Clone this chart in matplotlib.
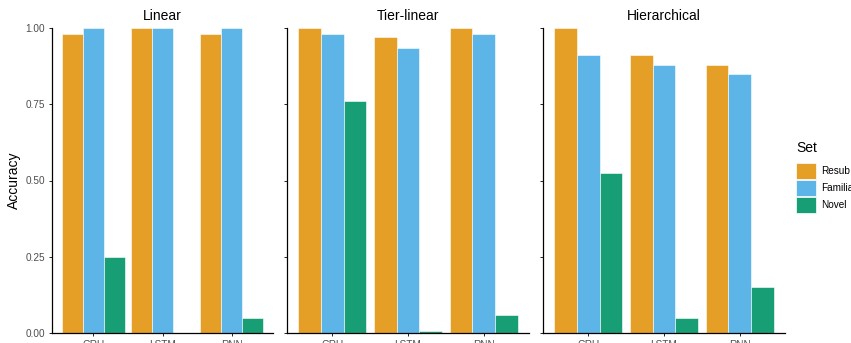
import numpy as np
import matplotlib
matplotlib.use("Agg")
import matplotlib.pyplot as plt
from matplotlib.patches import Patch

plt.rcParams['font.family'] = ['Liberation Sans', 'DejaVu Sans']

#----- data -----
panels = ["Linear", "Tier-linear", "Hierarchical"]
models = ["GRU", "LSTM", "RNN"]
sets = ["Resub", "Familiar", "Novel"]
colors = ["#E59F27", "#5DB5E7", "#189E75"]

linear = [[0.98, 1.00, 0.98],   # Resub
          [1.00, 1.00, 1.00],   # Familiar
          [0.25, 0.00, 0.05]]   # Novel
tier_linear = [[1.00, 0.97, 1.00],
               [0.98, 0.935, 0.98],
               [0.76, 0.005, 0.06]]
hierarchical = [[1.00, 0.91, 0.88],
                [0.91, 0.88, 0.85],
                [0.525, 0.05, 0.15]]
all_data = [linear, tier_linear, hierarchical]

W, H = 851, 343
fig = plt.figure(figsize=(W/100, H/100), dpi=100)

# pixel boxes of each panel (left, right), shared top/bottom
boxes = [(52, 273), (287, 529), (543, 785)]
top_px, bot_px = 28, 333

x = np.arange(len(models))
bw = 0.3
for p, (name, data, (l, r)) in enumerate(zip(panels, all_data, boxes)):
    ax = fig.add_axes([l/W, 1 - bot_px/H, (r - l)/W, (bot_px - top_px)/H])
    for k in range(len(sets)):
        ax.bar(x + (k - 1)*bw, data[k], width=bw, color=colors[k],
               edgecolor='white', linewidth=0.4)
    ax.set_xlim(-0.6, 2.6)
    ax.set_ylim(0, 1)
    ax.set_xticks(x)
    ax.set_xticklabels(models)
    ax.set_yticks([0, 0.25, 0.5, 0.75, 1.0])
    if p == 0:
        ax.set_yticklabels(["0.00", "0.25", "0.50", "0.75", "1.00"])
        ax.set_ylabel("Accuracy", fontsize=10, labelpad=3)
    else:
        ax.set_yticklabels([])
    ax.tick_params(axis='both', labelsize=7.2, colors='#4D4D4D', length=2.5,
                   width=0.6, pad=2.5)
    ax.tick_params(axis='both', which='both', color='black')
    for s in ['top', 'right']:
        ax.spines[s].set_visible(False)
    for s in ['left', 'bottom']:
        ax.spines[s].set_linewidth(0.9)
    ax.set_title(name, fontsize=10, pad=6)

handles = [Patch(facecolor=c, edgecolor='white', linewidth=0.5) for c in colors]
leg = fig.legend(handles, sets, title="Set", loc='upper left',
                 bbox_to_anchor=(796/W, 1 - 141/H), frameon=False,
                 fontsize=7.2, title_fontsize=10, handlelength=2.0,
                 handleheight=2.0, labelspacing=0.15, handletextpad=0.5,
                 borderaxespad=0, borderpad=0)
leg._legend_box.align = "left"
leg._legend_box.sep = 6

fig.savefig("out.png", dpi=100)
